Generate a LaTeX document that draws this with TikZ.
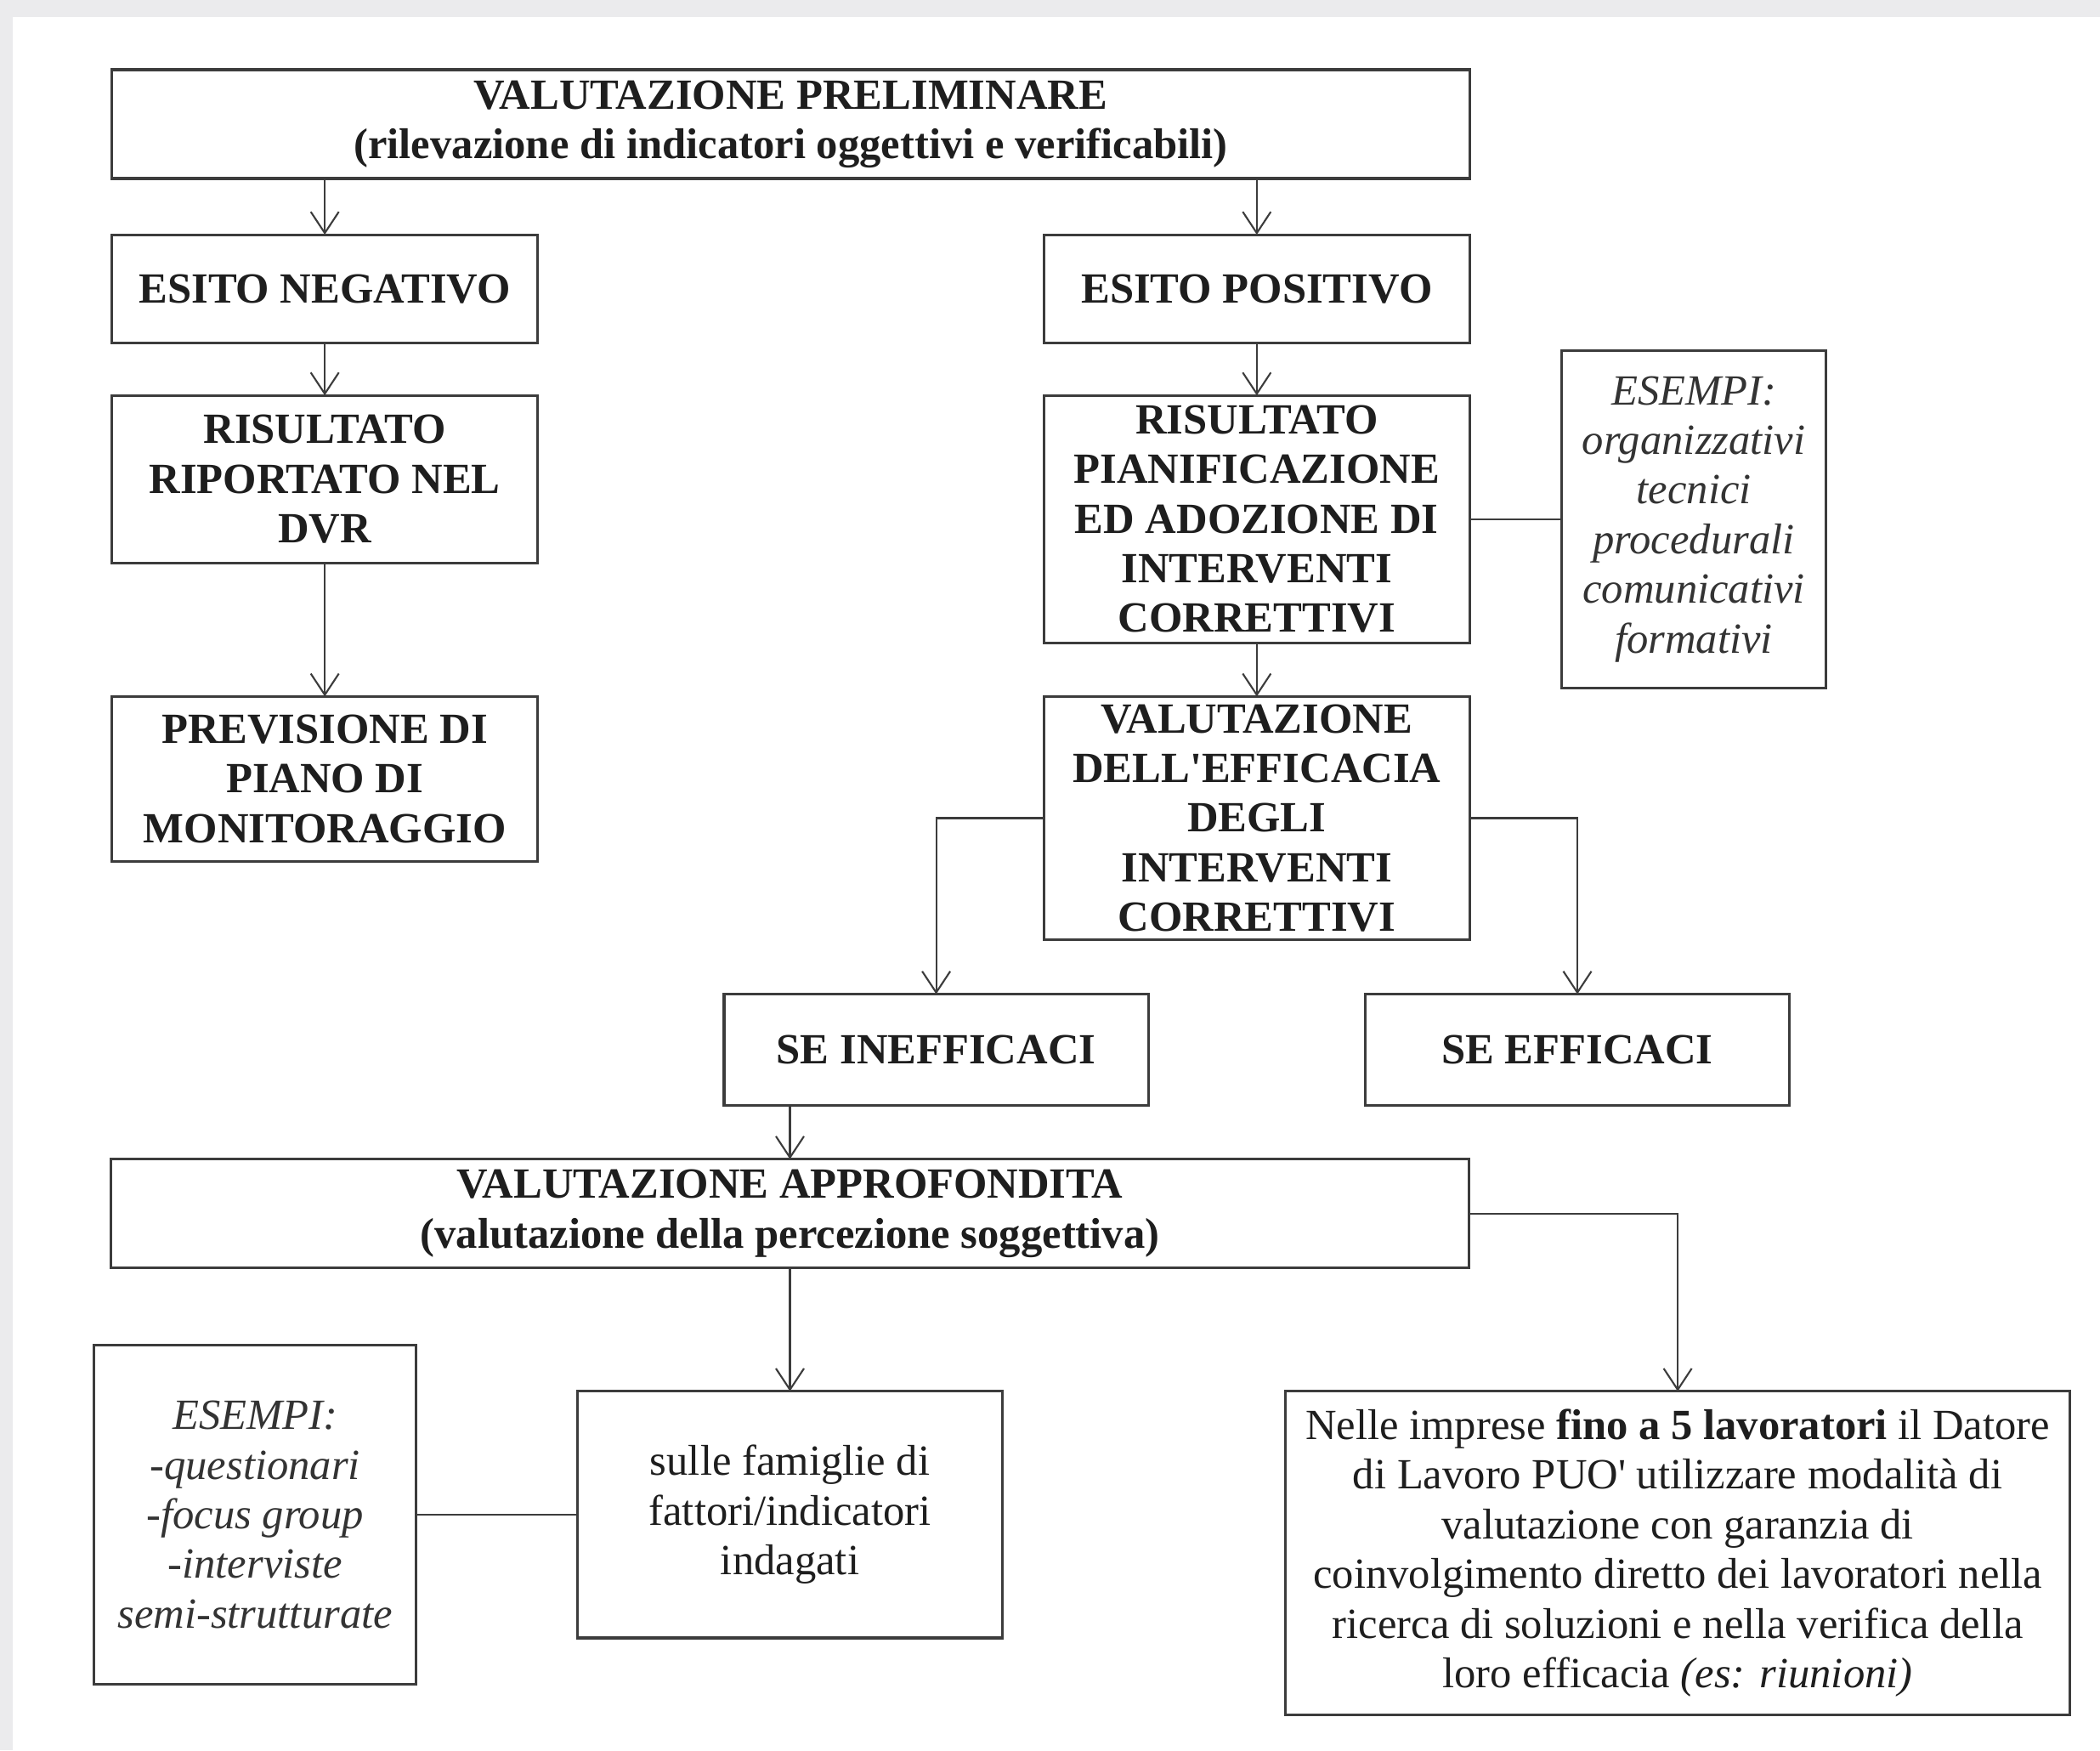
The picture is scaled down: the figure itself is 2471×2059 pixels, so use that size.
\documentclass[tikz,border=0pt]{standalone}
\usepackage{fontspec}
\setmainfont{Liberation Serif}
\usepackage{tikz}
\usetikzlibrary{positioning, arrows.meta, calc}

\definecolor{framegray}{HTML}{EBEBED}
\definecolor{boxline}{HTML}{3C3C3C}
\definecolor{textdark}{HTML}{1E1E1E}
\newcommand{\boxsize}{\fontsize{14.4}{16.6}\selectfont}

\begin{document}
\begin{tikzpicture}[
        x=0.01cm, y=-0.01cm,
        >={Straight Barb[length=2.5mm,width=3.3mm]},
        % stili dei blocchi
        stepbox/.style={rectangle, draw=boxline, line width=0.9pt, fill=white, text=textdark, align=center, inner sep=0pt, outer sep=0pt, font=\boxsize\bfseries},
        widebox/.style={stepbox, minimum width=15.97cm, minimum height=1.28cm},
        colbox/.style={stepbox, minimum width=5.01cm},
        notebox/.style={stepbox, font=\boxsize\itshape, text=black!80},
        plainbox/.style={stepbox, font=\boxsize},
        arrow/.style={draw=boxline, line width=0.6pt, ->},
        line/.style={draw=boxline, line width=0.6pt}
    ]

    % --- sfondo ---
    \fill[framegray] (0,0) rectangle (2471,2059);
    \fill[white] (15,20) rectangle (2471,2059);

    % --- 1. BLOCCHI ---
    \node[widebox] (prelim) at (930.5,146) {VALUTAZIONE PRELIMINARE\\(rilevazione di indicatori oggettivi e verificabili)};

    \node[colbox, minimum height=1.27cm, below right=0.66cm and 0cm of prelim.south west] (neg) {ESITO NEGATIVO};
    \node[colbox, minimum height=1.27cm, below left=0.66cm and 0cm of prelim.south east] (pos) {ESITO POSITIVO};

    \node[colbox, minimum height=1.97cm, below=0.62cm of neg] (ris) {RISULTATO\\RIPORTATO NEL\\DVR};
    \node[colbox, minimum height=1.94cm, below=1.57cm of ris] (prev) {PREVISIONE DI\\PIANO DI\\MONITORAGGIO};

    \node[colbox, minimum height=2.91cm, below=0.62cm of pos] (pian) {RISULTATO\\PIANIFICAZIONE\\ED ADOZIONE DI\\INTERVENTI\\CORRETTIVI};
    \node[notebox, minimum width=3.11cm, minimum height=3.97cm, right=1.08cm of pian] (esR) {ESEMPI:\\organizzativi\\tecnici\\procedurali\\comunicativi\\formativi};
    \node[colbox, minimum height=2.86cm, below=0.63cm of pian] (veff) {VALUTAZIONE\\DELL\textquotesingle EFFICACIA\\DEGLI\\INTERVENTI\\CORRETTIVI};

    \node[colbox, minimum width=4.99cm, minimum height=1.31cm, below=0.64cm of veff.south west, xshift=-1.265cm] (seI) {SE INEFFICACI};
    \node[colbox, minimum width=4.99cm, minimum height=1.31cm, below=0.64cm of veff.south east, xshift=1.265cm] (seE) {SE EFFICACI};

    \node[widebox, below=0.63cm of seI, xshift=-1.72cm] (appr) {VALUTAZIONE APPROFONDITA\\(valutazione della percezione soggettiva)};

    \node[plainbox, minimum width=4.99cm, minimum height=2.90cm, below=1.45cm of appr] (sulle) {sulle famiglie di\\fattori/indicatori\\indagati};
    \node[notebox, minimum width=3.79cm, minimum height=3.98cm, left=1.90cm of sulle] (esL) {ESEMPI:\\-questionari\\-focus group\\-interviste\\semi-strutturate};
    \node[plainbox, minimum width=9.23cm, minimum height=3.80cm, below right=0cm and 3.33cm of sulle.north east] (nelle) {Nelle imprese \textbf{fino a 5 lavoratori} il Datore\\di Lavoro PUO\textquotesingle{} utilizzare modalità di\\valutazione con garanzia di\\coinvolgimento diretto dei lavoratori nella\\ricerca di soluzioni e nella verifica della\\loro efficacia \textit{(es: riunioni)}};

    % --- 2. COLLEGAMENTI ---
    \draw[arrow] (prelim.south -| neg.north) -- (neg.north);
    \draw[arrow] (prelim.south -| pos.north) -- (pos.north);
    \draw[arrow] (neg) -- (ris);
    \draw[arrow] (ris) -- (prev);
    \draw[arrow] (pos) -- (pian);
    \draw[arrow] (pian) -- (veff);
    \draw[line] (pian) -- (esR);

    % rami dell'efficacia
    \draw[arrow] (veff.west) -| (seI.north);
    \draw[arrow] (veff.east) -| (seE.north);

    % valutazione approfondita
    \draw[arrow] (seI.south -| appr.north) -- (appr.north);
    \draw[arrow] (appr) -- (sulle);
    \draw[arrow] (appr.east) -| (nelle.north);
    \draw[line] (esL) -- (sulle);

\end{tikzpicture}
\end{document}
